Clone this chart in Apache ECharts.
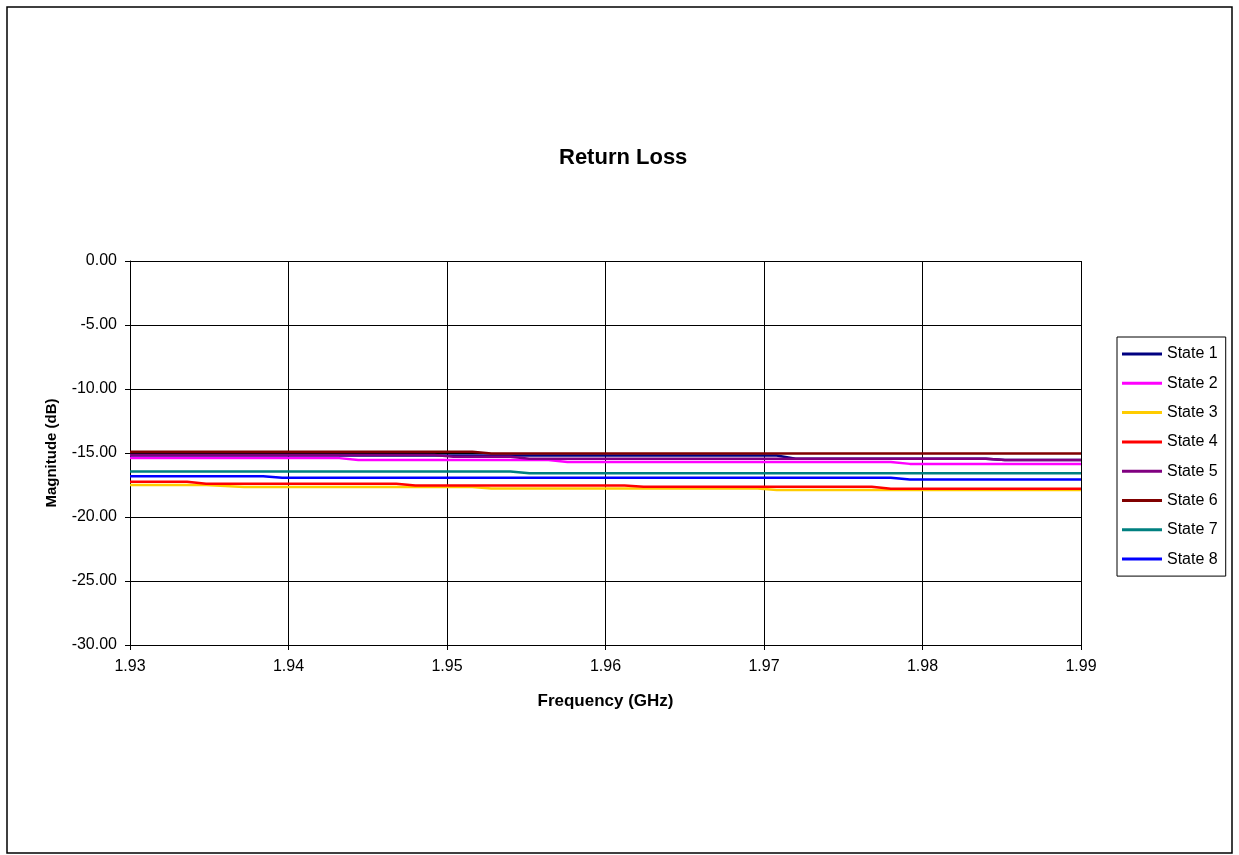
<!DOCTYPE html>
<html>
<head>
<meta charset="utf-8">
<script src="https://cdn.jsdelivr.net/npm/echarts@6/dist/echarts.min.js"></script>
<style>
html,body{margin:0;padding:0;background:#fff;}
#chart{width:1239px;height:855px;}
</style>
</head>
<body>
<div id="chart"></div>
<script>
// Frequency grid (GHz)
var freq = [
  1.9300,1.9312,1.9324,1.9336,1.9348,1.9360,1.9372,1.9384,1.9396,1.9408,
  1.9420,1.9432,1.9444,1.9456,1.9468,1.9480,1.9492,1.9504,1.9516,1.9528,
  1.9540,1.9552,1.9564,1.9576,1.9588,1.9600,1.9612,1.9624,1.9636,1.9648,
  1.9660,1.9672,1.9684,1.9696,1.9708,1.9720,1.9732,1.9744,1.9756,1.9768,
  1.9780,1.9792,1.9804,1.9816,1.9828,1.9840,1.9852,1.9864,1.9876,1.9888,
  1.9900
];
var seriesNames = ['State 1','State 2','State 3','State 4','State 5','State 6','State 7','State 8'];
var seriesColors = ['#000080','#FF00FF','#FFCC00','#FF0000','#800080','#800000','#008080','#0000FF'];

var state1 = [
  -15.20,-15.20,-15.20,-15.20,-15.20,-15.20,-15.20,-15.20,-15.20,-15.20,
  -15.20,-15.20,-15.20,-15.20,-15.20,-15.20,-15.20,-15.20,-15.20,-15.20,
  -15.20,-15.20,-15.20,-15.20,-15.20,-15.20,-15.20,-15.20,-15.20,-15.20,
  -15.20,-15.20,-15.20,-15.20,-15.20,-15.45,-15.45,-15.45,-15.45,-15.45,
  -15.45,-15.45,-15.45,-15.45,-15.45,-15.45,-15.55,-15.55,-15.55,-15.55,
  -15.55
];
var state2 = [
  -15.40,-15.40,-15.40,-15.40,-15.40,-15.40,-15.40,-15.40,-15.40,-15.40,
  -15.40,-15.40,-15.55,-15.55,-15.55,-15.55,-15.55,-15.55,-15.55,-15.55,
  -15.55,-15.55,-15.55,-15.70,-15.70,-15.70,-15.70,-15.70,-15.70,-15.70,
  -15.70,-15.70,-15.70,-15.70,-15.70,-15.70,-15.70,-15.70,-15.70,-15.70,
  -15.70,-15.85,-15.85,-15.85,-15.85,-15.85,-15.85,-15.85,-15.85,-15.85,
  -15.85
];
var state3 = [
  -17.50,-17.50,-17.50,-17.50,-17.50,-17.58,-17.65,-17.65,-17.65,-17.65,
  -17.65,-17.65,-17.65,-17.65,-17.65,-17.65,-17.65,-17.65,-17.65,-17.78,
  -17.78,-17.78,-17.78,-17.78,-17.78,-17.78,-17.78,-17.78,-17.78,-17.78,
  -17.78,-17.78,-17.78,-17.78,-17.90,-17.90,-17.90,-17.90,-17.90,-17.90,
  -17.90,-17.90,-17.90,-17.90,-17.90,-17.90,-17.90,-17.90,-17.90,-17.90,
  -17.90
];
var state4 = [
  -17.25,-17.25,-17.25,-17.25,-17.40,-17.40,-17.40,-17.40,-17.40,-17.40,
  -17.40,-17.40,-17.40,-17.40,-17.40,-17.53,-17.53,-17.53,-17.53,-17.53,
  -17.53,-17.53,-17.53,-17.53,-17.53,-17.53,-17.53,-17.63,-17.63,-17.63,
  -17.63,-17.63,-17.63,-17.63,-17.63,-17.63,-17.63,-17.63,-17.63,-17.63,
  -17.80,-17.80,-17.80,-17.80,-17.80,-17.80,-17.80,-17.80,-17.80,-17.80,
  -17.80
];
var state5 = [
  -15.15,-15.15,-15.15,-15.15,-15.15,-15.15,-15.15,-15.15,-15.15,-15.15,
  -15.15,-15.15,-15.15,-15.15,-15.15,-15.15,-15.15,-15.30,-15.30,-15.30,
  -15.30,-15.45,-15.45,-15.45,-15.45,-15.45,-15.45,-15.45,-15.45,-15.45,
  -15.45,-15.45,-15.45,-15.45,-15.45,-15.45,-15.45,-15.45,-15.45,-15.45,
  -15.45,-15.45,-15.45,-15.45,-15.45,-15.45,-15.55,-15.55,-15.55,-15.55,
  -15.55
];
var state6 = [
  -14.90,-14.90,-14.90,-14.90,-14.90,-14.90,-14.90,-14.90,-14.90,-14.90,
  -14.90,-14.90,-14.90,-14.90,-14.90,-14.90,-14.90,-14.90,-14.90,-15.03,
  -15.03,-15.03,-15.03,-15.03,-15.03,-15.03,-15.03,-15.03,-15.03,-15.03,
  -15.03,-15.03,-15.03,-15.03,-15.03,-15.03,-15.03,-15.03,-15.03,-15.03,
  -15.03,-15.03,-15.03,-15.03,-15.03,-15.03,-15.03,-15.03,-15.03,-15.03,
  -15.03
];
var state7 = [
  -16.45,-16.45,-16.45,-16.45,-16.45,-16.45,-16.45,-16.45,-16.45,-16.45,
  -16.45,-16.45,-16.45,-16.45,-16.45,-16.45,-16.45,-16.45,-16.45,-16.45,
  -16.45,-16.58,-16.58,-16.58,-16.58,-16.58,-16.58,-16.58,-16.58,-16.58,
  -16.58,-16.58,-16.58,-16.58,-16.58,-16.58,-16.58,-16.58,-16.58,-16.58,
  -16.58,-16.58,-16.58,-16.58,-16.58,-16.58,-16.58,-16.58,-16.58,-16.58,
  -16.58
];
var state8 = [
  -16.82,-16.82,-16.82,-16.82,-16.82,-16.82,-16.82,-16.82,-16.94,-16.94,
  -16.94,-16.94,-16.94,-16.94,-16.94,-16.94,-16.94,-16.94,-16.94,-16.94,
  -16.94,-16.94,-16.94,-16.94,-16.94,-16.94,-16.94,-16.94,-16.94,-16.94,
  -16.94,-16.94,-16.94,-16.94,-16.94,-16.94,-16.94,-16.94,-16.94,-16.94,
  -16.94,-17.07,-17.07,-17.07,-17.07,-17.07,-17.07,-17.07,-17.07,-17.07,
  -17.07
];
var seriesValues = [state1,state2,state3,state4,state5,state6,state7,state8];

var FONT = '"Liberation Sans", Arial, sans-serif';

var chart = echarts.init(document.getElementById('chart'), null, {renderer:'canvas'});
var series = seriesNames.map(function(name, i){
  return {
    name: name,
    type: 'line',
    symbol: 'none',
    showSymbol: false,
    animation: false,
    data: freq.map(function(f, k){ return [f, seriesValues[i][k]]; }),
    lineStyle: {color: seriesColors[i], width: 2.5},
    itemStyle: {color: seriesColors[i]}
  };
});

chart.setOption({
  backgroundColor: '#ffffff',
  animation: false,
  graphic: [{
    type: 'rect',
    shape: {x: 7, y: 7, width: 1225, height: 846},
    style: {fill: 'none', stroke: '#000', lineWidth: 1.5},
    silent: true,
    z: -1
  }],
  title: {
    text: 'Return Loss',
    left: 554,
    top: 142,
    textStyle: {fontFamily: FONT, fontSize: 22, fontWeight: 'bold', color: '#000'}
  },
  legend: {
    orient: 'vertical',
    left: 1117,
    top: 337,
    data: seriesNames,
    icon: 'path://M0,0H40V3H0Z',
    padding: [9, 8, 9, 5],
    itemGap: 13.3,
    itemWidth: 40,
    itemHeight: 3,
    borderColor: '#000',
    borderWidth: 1,
    backgroundColor: '#fff',
    textStyle: {fontFamily: FONT, fontSize: 16, lineHeight: 16, color: '#000'}
  },
  grid: {left: 130, top: 261, width: 951, height: 384, containLabel: false},
  xAxis: {
    type: 'value',
    min: 1.93,
    max: 1.99,
    interval: 0.01,
    name: 'Frequency (GHz)',
    nameLocation: 'middle',
    nameGap: 48,
    nameTextStyle: {fontFamily: FONT, fontSize: 17, fontWeight: 'bold', color: '#000'},
    axisLine: {show: true, onZero: false, lineStyle: {color: '#000', width: 1}},
    axisTick: {show: true, inside: false, length: 5, lineStyle: {color: '#000'}},
    axisLabel: {fontFamily: FONT, fontSize: 16, color: '#000', margin: 14,
      formatter: function(v){ return v.toFixed(2); }},
    splitLine: {show: true, lineStyle: {color: '#000', width: 1}}
  },
  yAxis: {
    type: 'value',
    min: -30,
    max: 0,
    interval: 5,
    name: 'Magnitude (dB)',
    nameLocation: 'middle',
    nameRotate: 90,
    nameGap: 71,
    nameTextStyle: {fontFamily: FONT, fontSize: 15, fontWeight: 'bold', color: '#000'},
    axisLine: {show: true, onZero: false, lineStyle: {color: '#000', width: 1}},
    axisTick: {show: true, inside: false, length: 5, lineStyle: {color: '#000'}},
    axisLabel: {fontFamily: FONT, fontSize: 16, color: '#000', margin: 13,
      formatter: function(v){ return v.toFixed(2); }},
    splitLine: {show: true, lineStyle: {color: '#000', width: 1}}
  },
  series: series
});
</script>
</body>
</html>
